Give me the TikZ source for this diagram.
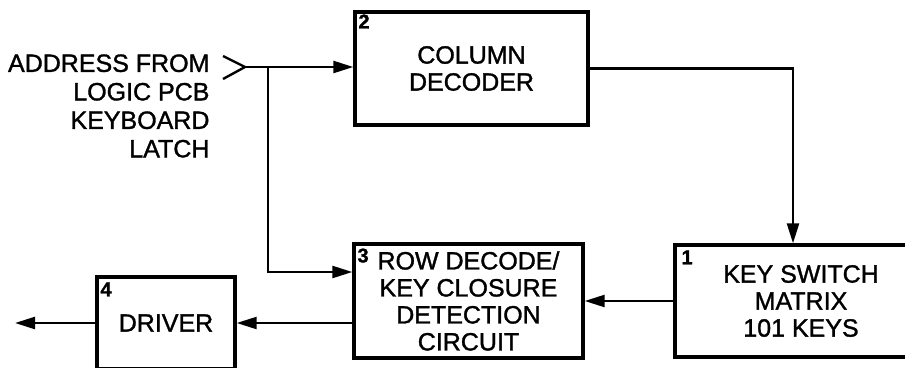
\documentclass[tikz,border=0pt]{standalone}
\usepackage{fontspec}
\setmainfont{Liberation Sans}[FakeBold=1.3]
\usetikzlibrary{arrows.meta,positioning}

\begin{document}
\begin{tikzpicture}[x=1pt, y=-1pt,
  every node/.style={font=\fontsize{25}{27}\selectfont},
  block/.style={draw, line width=3.4pt, inner sep=0pt, align=center},
  tag/.style={font=\fontsize{20}{20}\selectfont\bfseries, anchor=north west, inner sep=0pt},
  flow/.style={-{Triangle[length=20pt, width=12pt]}, line width=2.4pt},
  wire/.style={line width=2.4pt},
]
\useasboundingbox (0,0) rectangle (905,367);
\clip (0,0) rectangle (905,367);

% Blocks
\node[block, minimum width=233pt, minimum height=113pt] (coldec) at (471.5, 68.5) {COLUMN\\DECODER};
\node[block, minimum width=229pt, minimum height=114pt] (rowdec) at (468.5, 301) {ROW DECODE/\\KEY CLOSURE\\DETECTION\\CIRCUIT};
\node[block, minimum width=252pt, minimum height=112pt] (keymat) at (801, 301) {KEY SWITCH\\MATRIX\\101 KEYS};
\node[block, minimum width=138pt, minimum height=92pt] (driver) at (166, 323) {DRIVER};

% Block numbers
\node[tag] (n2) at ([shift={(5,4)}]coldec.north west) {2};
\node[tag] (n3) at ([shift={(5,6)}]rowdec.north west) {3};
\node[tag] (n1) at ([shift={(8,7)}]keymat.north west) {1};
\node[tag] (n4) at ([shift={(5,7)}]driver.north west) {4};

% Input
\node[anchor=east, align=right, font=\fontsize{25}{28.5}\selectfont] (addr) at (213, 106) {ADDRESS FROM\\LOGIC PCB\\KEYBOARD\\LATCH};
\coordinate (inpt) at (245, 67);
\coordinate (tap) at (268, 67);
\draw[wire] ([shift={(-22,-11)}]inpt) -- (inpt) -- ([shift={(-22,12)}]inpt);

% Signal paths
\draw[flow] (inpt) -- (inpt -| coldec.west);
\draw[flow] (tap) |- ([shift={(0,-29)}]rowdec.west);
\draw[flow] (coldec.east) -| ([shift={(-8,0)}]keymat.north);
\draw[flow] (keymat.west) -- (rowdec.east);
\draw[flow] (rowdec.west |- driver.east) -- (driver.east);
\coordinate (out) at (15, 323);
\draw[flow] (driver.west) -- (out);

\end{tikzpicture}
\end{document}
